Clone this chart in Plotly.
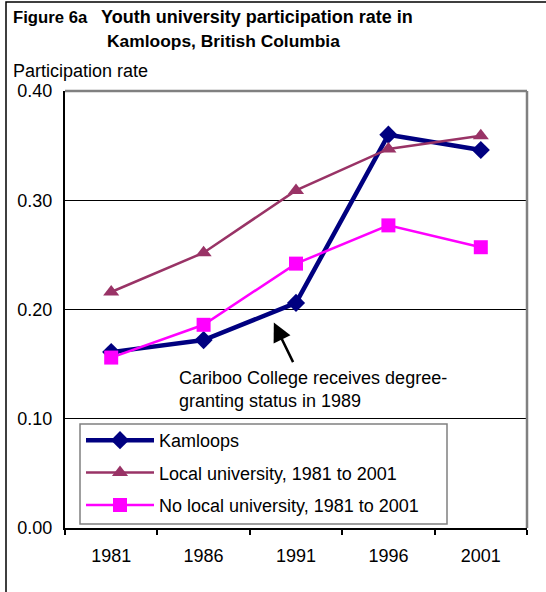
import plotly.graph_objects as go

years = ["1981", "1986", "1991", "1996", "2001"]
kamloops = [0.161, 0.172, 0.206, 0.360, 0.346]
local_univ = [0.216, 0.252, 0.309, 0.347, 0.359]
no_local_univ = [0.156, 0.186, 0.242, 0.277, 0.257]
y_ticks = [0.0, 0.1, 0.2, 0.3, 0.4]

FONT = "Liberation Sans, Arial, sans-serif"

L, R, T, B = 65, 19, 91, 64
W, H = 546, 592
PW, PH = W - L - R, H - T - B


def px_x(px):
    return (px - L) / PW


def px_y(py):
    return (H - B - py) / PH


fig = go.Figure()
fig.add_trace(go.Scatter(
    x=years, y=kamloops, name="Kamloops", mode="lines+markers",
    line=dict(color="#000080", width=4.5),
    marker=dict(symbol="diamond", size=14, color="#000080"),
    legendgroup="a"))
fig.add_trace(go.Scatter(
    x=years, y=local_univ, name="Local university, 1981 to 2001", mode="lines+markers",
    line=dict(color="#993366", width=2.5),
    marker=dict(symbol="triangle-up", size=14, color="#993366"),
    legendgroup="b"))
fig.add_trace(go.Scatter(
    x=years, y=no_local_univ, name="No local university, 1981 to 2001", mode="lines+markers",
    line=dict(color="#FF00FF", width=2.5),
    marker=dict(symbol="square", size=14, color="#FF00FF"),
    legendgroup="c"))

fig.update_layout(
    width=W, height=H,
    margin=dict(l=L, r=R, t=T, b=B, pad=0),
    paper_bgcolor="white", plot_bgcolor="white",
    font=dict(family=FONT, size=18, color="black"),
    showlegend=True,
    legend=dict(
        x=px_x(81), y=px_y(422), xanchor="left", yanchor="top",
        borderwidth=0, bgcolor="rgba(0,0,0,0)",
        font=dict(size=18), tracegroupgap=6, itemwidth=68,
    ),
    xaxis=dict(
        type="category", range=[-0.5, 4.5],
        showline=True, linecolor="black", linewidth=2,
        ticks="outside", tickson="boundaries", ticklen=5, tickcolor="black",
        tickwidth=1.5, showgrid=False, ticklabelstandoff=10,
        tickfont=dict(size=18),
    ),
    yaxis=dict(
        range=[0, 0.4], tickvals=y_ticks, tickformat=".2f",
        showline=True, linecolor="black", linewidth=2,
        showgrid=True, gridcolor="black", gridwidth=1,
        ticks="", ticklabelstandoff=7, zeroline=False,
        tickfont=dict(size=18),
    ),
)

# plot-area top and right border (grey)
fig.add_shape(type="line", xref="x domain", yref="y domain", x0=0, x1=1, y0=1, y1=1,
              line=dict(color="#808080", width=2.5), layer="above")
fig.add_shape(type="line", xref="x domain", yref="y domain", x0=1, x1=1, y0=0, y1=1,
              line=dict(color="#808080", width=2.5), layer="above")
# legend frame
fig.add_shape(type="rect", xref="paper", yref="paper",
              x0=px_x(80), x1=px_x(447), y0=px_y(524), y1=px_y(424),
              line=dict(color="#808080", width=1.5), layer="above")
# outer frame
fig.add_shape(type="rect", xref="paper", yref="paper",
              x0=px_x(6), x1=px_x(560), y0=px_y(610), y1=px_y(2),
              line=dict(color="black", width=1.5), layer="above")

# titles
fig.add_annotation(xref="paper", yref="paper", x=px_x(11), y=px_y(17),
                   xanchor="left", yanchor="middle", showarrow=False,
                   text="<b>Figure 6a</b>", font=dict(size=16.7))
fig.add_annotation(xref="paper", yref="paper", x=px_x(99), y=px_y(17),
                   xanchor="left", yanchor="middle", showarrow=False,
                   text="<b>Youth university participation rate in</b>", font=dict(size=18))
fig.add_annotation(xref="paper", yref="paper", x=px_x(105), y=px_y(41),
                   xanchor="left", yanchor="middle", showarrow=False,
                   text="<b>Kamloops, British Columbia</b>", font=dict(size=17.4))
fig.add_annotation(xref="paper", yref="paper", x=px_x(11), y=px_y(71),
                   xanchor="left", yanchor="middle", showarrow=False,
                   text="Participation rate", font=dict(size=18))

# arrow annotation
fig.add_annotation(x=1.76, y=0.188, xref="x", yref="y", text="",
                   showarrow=True, arrowhead=2, arrowsize=1.5, arrowwidth=2.5,
                   arrowcolor="black", ax=20, ay=41, axref="pixel", ayref="pixel")
fig.add_annotation(xref="paper", yref="paper", x=px_x(177), y=px_y(389),
                   xanchor="left", yanchor="middle", showarrow=False, align="left",
                   text="Cariboo College receives degree-<br>granting status in 1989",
                   font=dict(size=18))

fig.write_html("out.html", config={"displayModeBar": False},
               post_script="document.body.style.margin='0';document.body.style.overflow='hidden';")
